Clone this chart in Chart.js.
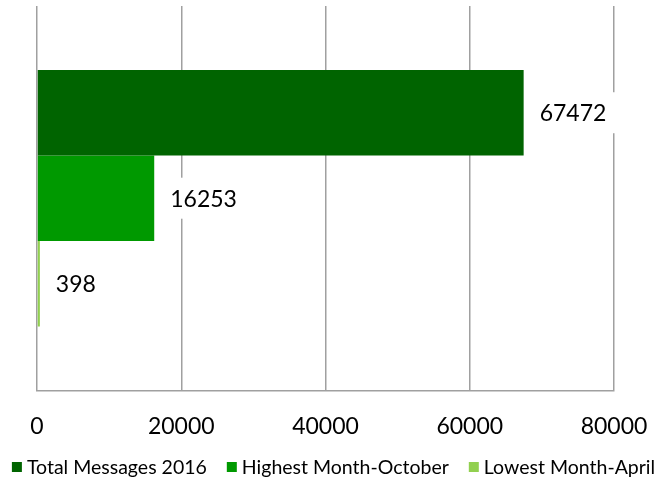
<!DOCTYPE html>
<html>
<head>
<meta charset="utf-8">
<script src="https://cdn.jsdelivr.net/npm/chart.js@4"></script>
<style>
html,body{margin:0;padding:0;background:#fff;}
#wrap{width:661px;height:482px;}
</style>
</head>
<body>
<div id="wrap"><canvas id="c" width="661" height="482"></canvas></div>
<script>
const categories = ['2016'];
const seriesNames = ['Total Messages 2016', 'Highest Month-October', 'Lowest Month-April'];
const totalMessages = [67472];
const highestMonth = [16253];
const lowestMonth = [398];
const xTicks = [0, 20000, 40000, 60000, 80000];

const colors = ['#006400', '#009900', '#92D050'];
const FONT = 'Lato, "Open Sans", sans-serif';

const valueLabels = {
  id: 'valueLabels',
  afterDatasetsDraw(chart) {
    const ctx = chart.ctx;
    ctx.save();
    ctx.font = '23px ' + FONT;
    ctx.textBaseline = 'middle';
    ctx.textAlign = 'left';
    chart.data.datasets.forEach((ds, i) => {
      const meta = chart.getDatasetMeta(i);
      meta.data.forEach((bar, j) => {
        const txt = String(ds.data[j]);
        const w = ctx.measureText(txt).width;
        const x = bar.x + 16;
        const y = bar.y;
        ctx.fillStyle = '#ffffff';
        ctx.fillRect(x - 9, y - 20.5, w + 18, 41);
        ctx.fillStyle = '#000000';
        ctx.fillText(txt, x, y + 1);
      });
    });
    ctx.restore();
  }
};

const customLegend = {
  id: 'customLegend',
  afterDraw(chart) {
    const ctx = chart.ctx;
    ctx.save();
    ctx.font = '19.5px ' + FONT;
    ctx.textBaseline = 'middle';
    const box = 10, gapBox = 5, gapItem = 20;
    const items = chart.data.datasets.map(d => ({ t: d.label, c: d.backgroundColor, w: ctx.measureText(d.label).width }));
    let total = items.reduce((s, it) => s + box + gapBox + it.w, 0) + gapItem * (items.length - 1);
    let x = (chart.width - total) / 2 + 3;
    const y = 467;
    items.forEach(it => {
      ctx.fillStyle = it.c;
      ctx.fillRect(x, y - 5, box, box);
      ctx.fillStyle = '#000';
      ctx.fillText(it.t, x + box + gapBox, y + 1);
      x += box + gapBox + it.w + gapItem;
    });
    ctx.restore();
  }
};

new Chart(document.getElementById('c'), {
  type: 'bar',
  data: {
    labels: categories,
    datasets: [
      { label: seriesNames[0], data: totalMessages, backgroundColor: colors[0] },
      { label: seriesNames[1], data: highestMonth, backgroundColor: colors[1] },
      { label: seriesNames[2], data: lowestMonth, backgroundColor: colors[2] }
    ]
  },
  options: {
    indexAxis: 'y',
    responsive: false,
    animation: false,
    devicePixelRatio: 1,
    layout: { padding: { left: 37, right: 47, top: 6, bottom: 20 } },
    datasets: { bar: { categoryPercentage: 0.667, barPercentage: 1, borderWidth: 0 } },
    plugins: { legend: { display: false }, tooltip: { enabled: false } },
    scales: {
      y: { display: false },
      x: {
        min: 0, max: 80000,
        afterBuildTicks(scale) { scale.ticks = xTicks.map(v => ({ value: v })); },
        afterFit(scale) { scale.paddingLeft = 0; scale.paddingRight = 0; },
        ticks: { color: '#000', font: { family: FONT, size: 23 }, padding: 22, maxRotation: 0, autoSkip: false,
                 callback: (v) => String(v) },
        grid: { color: '#a0a0a0', lineWidth: 1.5, drawTicks: false },
        border: { display: true, color: '#a0a0a0', width: 1.5 }
      }
    }
  },
  plugins: [valueLabels, customLegend]
});
</script>
</body>
</html>
